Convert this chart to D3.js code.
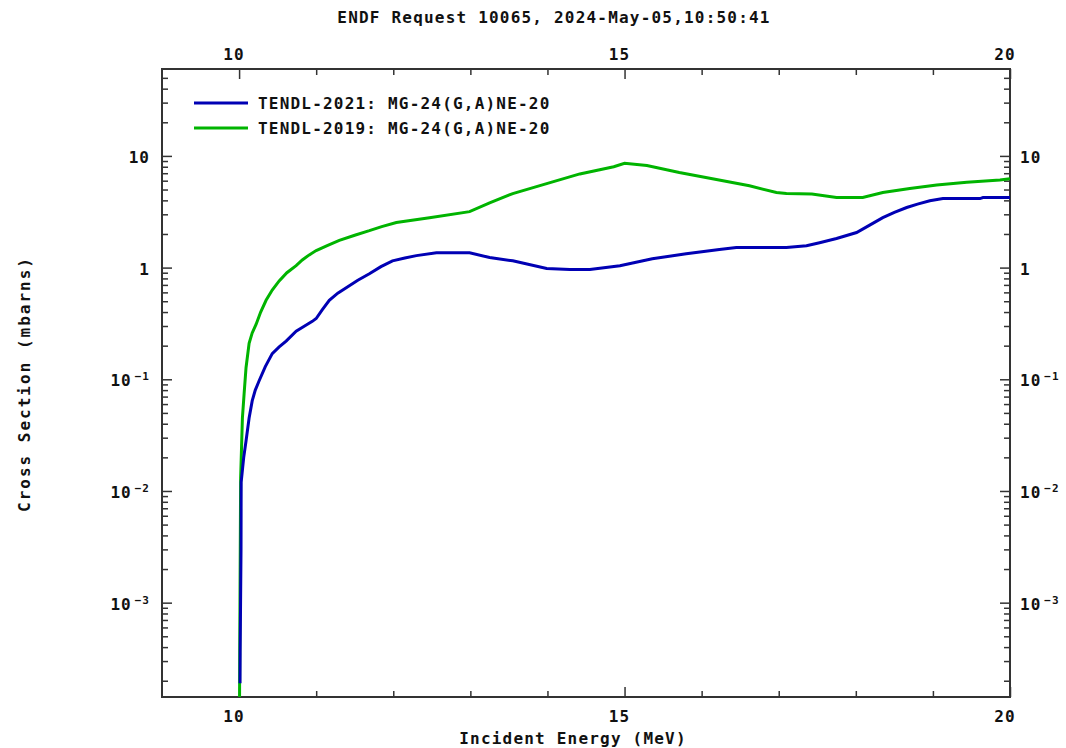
<!DOCTYPE html>
<html>
<head>
<meta charset="utf-8">
<script src="https://cdn.jsdelivr.net/npm/d3@7"></script>
<style>
  body { margin: 0; background: #fff; }
  text { font-family: "DejaVu Sans Mono", monospace; font-weight: bold; fill: #111; }
</style>
</head>
<body>
<svg id="chart" width="1066" height="748"></svg>
<script>
// TENDL-2021 and TENDL-2019, MG-24(G,A)NE-20, energy in MeV, xs in mbarns
var tendl2021E = [10.012, 10.014, 10.025, 10.027, 10.06, 10.09, 10.13, 10.17, 10.21, 10.26, 10.34, 10.43, 10.52, 10.61, 10.74,
                  10.85, 10.95, 11.0, 11.08, 11.17, 11.28, 11.39, 11.54, 11.69, 11.84, 11.99, 12.15, 12.3, 12.56, 12.99,
                  13.25, 13.55, 13.99, 14.29, 14.55, 14.94, 15.36, 15.8, 16.23, 16.45, 17.1, 17.36, 17.53, 17.75, 18.01,
                  18.18, 18.35, 18.5, 18.66, 18.8, 18.96, 19.13, 19.61, 19.65, 20.0];
var tendl2021Y = [1.9e-4, 3.6e-4, 3.0e-3, 0.012, 0.02, 0.028, 0.045, 0.064, 0.08, 0.097, 0.13, 0.17, 0.195, 0.22, 0.27,
                  0.30, 0.33, 0.35, 0.42, 0.51, 0.59, 0.66, 0.77, 0.88, 1.02, 1.15, 1.22, 1.28, 1.36, 1.36,
                  1.23, 1.15, 0.98, 0.96, 0.96, 1.04, 1.2, 1.33, 1.45, 1.51, 1.51, 1.57, 1.67, 1.82, 2.06,
                  2.4, 2.8, 3.12, 3.45, 3.7, 3.97, 4.15, 4.15, 4.24, 4.24];

var tendl2019E = [10.0, 10.008, 10.02, 10.043, 10.065, 10.09, 10.13, 10.17, 10.22, 10.28, 10.35, 10.43, 10.52, 10.62, 10.74,
                  10.82, 10.91, 11.0, 11.15, 11.3, 11.5, 11.69, 11.85, 12.04, 12.47, 12.99, 13.25, 13.55, 13.99, 14.42,
                  14.86, 15.0, 15.29, 15.71, 16.14, 16.62, 16.97, 17.1, 17.43, 17.75, 18.09, 18.35, 18.7, 19.05, 19.44,
                  19.87, 20.0];
var tendl2019Y = [1e-5, 3.5e-4, 0.013, 0.045, 0.074, 0.127, 0.21, 0.26, 0.31, 0.40, 0.51, 0.63, 0.76, 0.9, 1.04,
                  1.17, 1.3, 1.42, 1.58, 1.75, 1.95, 2.14, 2.33, 2.53, 2.8, 3.17, 3.8, 4.6, 5.65, 6.9,
                  8.0, 8.6, 8.2, 7.1, 6.25, 5.4, 4.7, 4.6, 4.55, 4.24, 4.24, 4.7, 5.1, 5.5, 5.8,
                  6.1, 6.25];

var seriesNames = ["TENDL-2021: MG-24(G,A)NE-20", "TENDL-2019: MG-24(G,A)NE-20"];
var seriesColors = ["#0000b4", "#00b400"];

var xMajor = [10, 15, 20];
var xMinor = [11, 12, 13, 14, 16, 17, 18, 19];
var yMajor = [1e-3, 1e-2, 1e-1, 1, 10];
var yMajorLabels = [["10", "\u22123"], ["10", "\u22122"], ["10", "\u22121"], ["1", ""], ["10", ""]];

var svg = d3.select("#chart"),
    margin = {top: 69, right: 56, bottom: 51, left: 162},
    width = +svg.attr("width") - margin.left - margin.right,
    height = +svg.attr("height") - margin.top - margin.bottom;

var x = d3.scaleLinear().domain([9, 20]).range([0, width]),
    y = d3.scaleLog().domain([1.43e-4, 60]).range([height, 0]);

var yMinor = [];
for (var e = -4; e <= 1; e++) {
  for (var m = 2; m <= 9; m++) {
    var v = m * Math.pow(10, e);
    if (v > y.domain()[0] && v < y.domain()[1]) yMinor.push(v);
  }
}

var g = svg.append("g")
    .attr("transform", "translate(" + margin.left + "," + margin.top + ")");

svg.append("defs").append("clipPath").attr("id", "plotClip")
  .append("rect").attr("width", width).attr("height", height);

// ticks, inward on all four sides
function ticks(axisFn, vals, size, tr) {
  var a = g.append("g").attr("class", "ticks").attr("transform", tr)
      .call(axisFn.tickValues(vals).tickSize(size).tickFormat(""));
  a.select(".domain").remove();
  a.selectAll("line").attr("stroke", "#333").attr("stroke-width", 1.5);
  return a;
}
ticks(d3.axisTop(x), xMajor, 10, "translate(0," + height + ")");
ticks(d3.axisTop(x), xMinor, 6, "translate(0," + height + ")");
ticks(d3.axisBottom(x), xMajor, 10, "translate(0,0)");
ticks(d3.axisBottom(x), xMinor, 6, "translate(0,0)");
ticks(d3.axisRight(y), yMajor, 10, "translate(0,0)");
ticks(d3.axisRight(y), yMinor, 6, "translate(0,0)");
ticks(d3.axisLeft(y), yMajor, 10, "translate(" + width + ",0)");
ticks(d3.axisLeft(y), yMinor, 6, "translate(" + width + ",0)");

// frame
g.append("rect").attr("width", width).attr("height", height)
  .attr("fill", "none").attr("stroke", "#333").attr("stroke-width", 2);

// x labels top & bottom
xMajor.forEach(function(d) {
  g.append("text").attr("x", x(d) - 5).attr("y", -9).attr("text-anchor", "middle")
    .style("font-size", "16px").style("letter-spacing", "1.2px").text(d);
  g.append("text").attr("x", x(d) - 5).attr("y", height + 25).attr("text-anchor", "middle")
    .style("font-size", "16px").style("letter-spacing", "1.2px").text(d);
});

// y labels left & right
yMajor.forEach(function(d, i) {
  var lab = yMajorLabels[i];
  [{x: -12, anchor: "end"}, {x: width + 10, anchor: "start"}].forEach(function(s) {
    var t = g.append("text").attr("x", s.x).attr("y", y(d) + 7).attr("text-anchor", s.anchor)
      .style("font-size", "16px").style("letter-spacing", "1px");
    t.append("tspan").text(lab[0]);
    if (lab[1]) {
      t.append("tspan").attr("dx", 3).attr("dy", -6).style("font-size", "11px").text(lab[1]);
    }
  });
});

// curves
var line = d3.line()
    .x(function(d) { return x(d[0]); })
    .y(function(d) { return y(d[1]); });

var plot = g.append("g").attr("clip-path", "url(#plotClip)");
[[tendl2019E, tendl2019Y, 1], [tendl2021E, tendl2021Y, 0]].forEach(function(s) {
  plot.append("path")
    .datum(d3.zip(s[0], s[1]))
    .attr("fill", "none")
    .attr("stroke", seriesColors[s[2]])
    .attr("stroke-width", 3)
    .attr("d", line);
});

// legend
seriesNames.forEach(function(name, i) {
  var ly = 34 + i * 25;
  g.append("line").attr("x1", 32).attr("x2", 86).attr("y1", ly).attr("y2", ly)
    .attr("stroke", seriesColors[i]).attr("stroke-width", 3);
  g.append("text").attr("x", 96).attr("y", ly + 6)
    .style("font-size", "16px").style("letter-spacing", "1.2px").text(name);
});

// titles
svg.append("text").attr("x", 554).attr("y", 23).attr("text-anchor", "middle")
  .style("font-size", "16px").style("letter-spacing", "1.2px")
  .text("ENDF Request 10065, 2024-May-05,10:50:41");
svg.append("text").attr("x", 573).attr("y", 744).attr("text-anchor", "middle")
  .style("font-size", "16px").style("letter-spacing", "1.2px")
  .text("Incident Energy (MeV)");
svg.append("text").attr("transform", "translate(30,384) rotate(-90)").attr("text-anchor", "middle")
  .style("font-size", "16px").style("letter-spacing", "2px")
  .text("Cross Section (mbarns)");
</script>
</body>
</html>
